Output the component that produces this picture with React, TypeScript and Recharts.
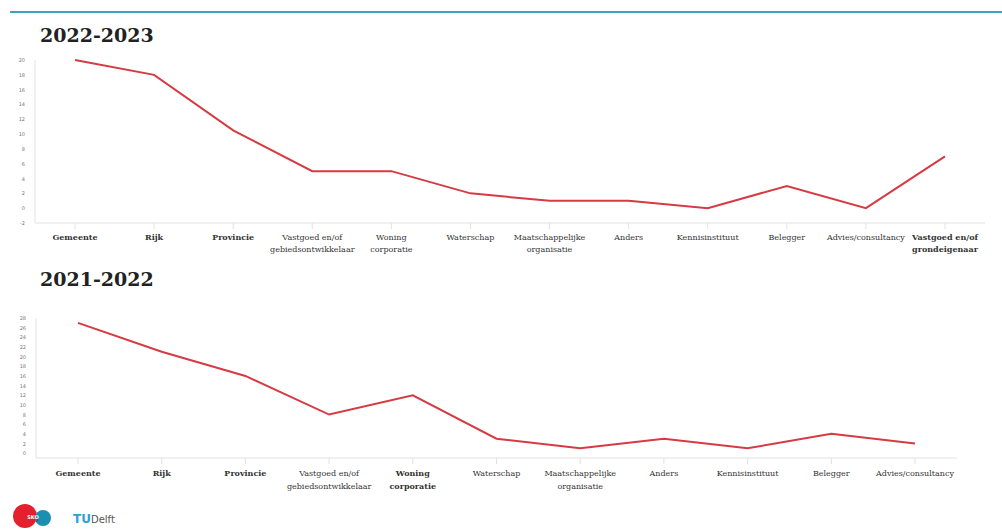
import React from "react";
import { LineChart, Line, XAxis, YAxis } from "recharts";

const categories2023 = [
  "Gemeente",
  "Rijk",
  "Provincie",
  "Vastgoed en/of\ngebiedsontwikkelaar",
  "Woning\ncorporatie",
  "Waterschap",
  "Maatschappelijke\norganisatie",
  "Anders",
  "Kennisinstituut",
  "Belegger",
  "Advies/consultancy",
  "Vastgoed en/of\ngrondeigenaar",
];
const values2023 = [20, 18, 10.5, 5, 5, 2, 1, 1, 0, 3, 0, 7];
const bold2023 = ["Gemeente", "Rijk", "Provincie", "Vastgoed en/of\ngrondeigenaar"];
const ticks2023 = [-2, 0, 2, 4, 6, 8, 10, 12, 14, 16, 18, 20];

const categories2022 = [
  "Gemeente",
  "Rijk",
  "Provincie",
  "Vastgoed en/of\ngebiedsontwikkelaar",
  "Woning\ncorporatie",
  "Waterschap",
  "Maatschappelijke\norganisatie",
  "Anders",
  "Kennisinstituut",
  "Belegger",
  "Advies/consultancy",
];
const values2022 = [27, 21, 16, 8, 12, 3, 1, 3, 1, 4, 2];
const bold2022 = ["Gemeente", "Rijk", "Provincie", "Woning\ncorporatie"];
const ticks2022 = [0, 2, 4, 6, 8, 10, 12, 14, 16, 18, 20, 22, 24, 26, 28];

const data2023 = categories2023.map((c, i) => ({ name: c, value: values2023[i] }));
const data2022 = categories2022.map((c, i) => ({ name: c, value: values2022[i] }));

const LINE = "#d63a42";
const AXIS = "#e2e2e2";
const SERIF = "'DejaVu Serif', serif";

const makeTick = (boldList: string[], dy: number, lh: number) => (props: any) => {
  const { x, y, payload } = props;
  const lines = String(payload.value).split("\n");
  const isBold = boldList.includes(payload.value);
  return (
    <text
      x={x}
      y={y + dy}
      textAnchor="middle"
      fontFamily={SERIF}
      fontSize={8}
      fontWeight={isBold ? 700 : 400}
      fill="#333"
    >
      {lines.map((l, i) => (
        <tspan key={i} x={x} dy={i === 0 ? 0 : lh}>
          {l}
        </tspan>
      ))}
    </text>
  );
};

const YTick = (props: any) => {
  const { x, y, payload } = props;
  return (
    <text x={x - 2} y={y + 2} textAnchor="end" fontSize={5} fill="#777" fontFamily="'DejaVu Sans', sans-serif">
      {payload.value}
    </text>
  );
};

export default function App() {
  return (
    <div
      style={{
        position: "absolute",
        left: 0,
        top: 0,
        width: 1002,
        height: 530,
        background: "#fff",
        overflow: "hidden",
      }}
    >
      <div style={{ position: "absolute", left: 10, top: 11, width: 992, height: 2, background: "#3ea3c2" }} />
      <div
        style={{
          position: "absolute",
          left: 40,
          top: 24,
          fontFamily: SERIF,
          fontWeight: 700,
          fontSize: 19,
          color: "#222",
        }}
      >
        2022-2023
      </div>
      <div style={{ position: "absolute", left: 0, top: 0 }}>
        <LineChart width={1002} height={280} data={data2023} margin={{ top: 60, right: 17, left: 0, bottom: 17 }}>
          <XAxis
            dataKey="name"
            interval={0}
            height={40}
            padding={{ left: 40, right: 40 }}
            stroke={AXIS}
            tickLine={{ stroke: AXIS }}
            tick={makeTick(bold2023, 9, 12)}
          />
          <YAxis
            domain={[-2, 20]}
            ticks={ticks2023}
            width={35}
            interval={0}
            stroke={AXIS}
            tickLine={false}
            tick={<YTick />}
          />
          <Line type="linear" dataKey="value" stroke={LINE} strokeWidth={2} dot={false} isAnimationActive={false} />
        </LineChart>
      </div>

      <div
        style={{
          position: "absolute",
          left: 40,
          top: 268,
          fontFamily: SERIF,
          fontWeight: 700,
          fontSize: 19,
          color: "#222",
        }}
      >
        2021-2022
      </div>
      <div style={{ position: "absolute", left: 0, top: 260 }}>
        <LineChart width={1002} height={270} data={data2022} margin={{ top: 58, right: 45, left: 0, bottom: 32 }}>
          <XAxis
            dataKey="name"
            interval={0}
            height={40}
            padding={{ left: 42, right: 42 }}
            stroke={AXIS}
            tickLine={{ stroke: AXIS }}
            tick={makeTick(bold2022, 10, 13)}
          />
          <YAxis
            domain={[-1, 28]}
            ticks={ticks2022}
            width={36}
            interval={0}
            stroke={AXIS}
            tickLine={false}
            tick={<YTick />}
          />
          <Line type="linear" dataKey="value" stroke={LINE} strokeWidth={2} dot={false} isAnimationActive={false} />
        </LineChart>
      </div>

      <svg style={{ position: "absolute", left: 0, top: 496 }} width={140} height={34}>
        <circle cx={25} cy={20} r={12} fill="#e5202e" />
        <circle cx={43} cy={22} r={8} fill="#1b8fb0" />
        <path d="M 36 18 A 8 8 0 0 1 36.5 27 A 12 12 0 0 0 36 18 Z" fill="#3a2d55" />
        <text x={33} y={23} fontSize={5} fill="#fff" textAnchor="middle" fontFamily="'DejaVu Sans', sans-serif" fontWeight={700}>
          SKO
        </text>
        <text x={73} y={27} fontSize={12} fontFamily="'DejaVu Sans', sans-serif" fontWeight={700}>
          <tspan fill="#2aa3d6">TU</tspan>
          <tspan fill="#555" fontWeight={400} fontSize={10}>Delft</tspan>
        </text>
      </svg>
    </div>
  );
}
